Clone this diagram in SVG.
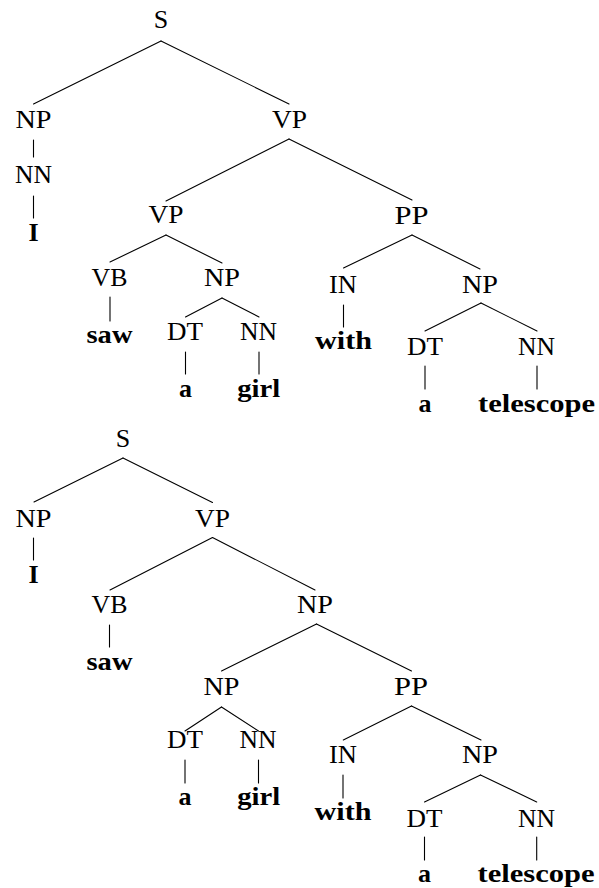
<svg xmlns="http://www.w3.org/2000/svg" width="599" height="888" viewBox="0 0 599 888">
  <style>
    text { font-family: "Liberation Serif", "Times New Roman", serif; fill: #000; text-anchor: middle; }
    .cat { font-size: 26px; }
    .word { font-size: 26px; font-weight: bold; }
    .edges line { stroke: #000; stroke-width: 1.1; stroke-linecap: round; }
  </style>
  <rect width="599" height="888" fill="#fff"/>

  <!-- Parse 1: PP attached to the verb phrase -->
  <g id="edges-1" class="edges">
    <line x1="161" y1="41" x2="33.5" y2="104"/>
    <line x1="161" y1="41" x2="289" y2="104"/>
    <line x1="33.5" y1="140" x2="33.5" y2="157"/>
    <line x1="33.5" y1="196" x2="33.5" y2="218"/>
    <line x1="289" y1="139" x2="166" y2="201"/>
    <line x1="289" y1="139" x2="412" y2="200"/>
    <line x1="166" y1="235" x2="110" y2="262"/>
    <line x1="166" y1="235" x2="222" y2="263"/>
    <line x1="110" y1="297" x2="110" y2="321"/>
    <line x1="222" y1="298" x2="185.5" y2="317"/>
    <line x1="222" y1="298" x2="259" y2="317"/>
    <line x1="185.5" y1="352" x2="185.5" y2="374"/>
    <line x1="259" y1="352" x2="259" y2="374"/>
    <line x1="412" y1="235" x2="343.5" y2="268"/>
    <line x1="412" y1="235" x2="480" y2="269"/>
    <line x1="343.5" y1="305" x2="343.5" y2="327"/>
    <line x1="481" y1="303" x2="425" y2="331"/>
    <line x1="481" y1="303" x2="537" y2="331"/>
    <line x1="425" y1="366" x2="425" y2="389"/>
    <line x1="537" y1="366" x2="537" y2="389"/>
  </g>

  <g id="t1-S"><text class="cat" x="161" y="28">S</text></g>
  <g id="t1-NP"><text class="cat" x="33.5" y="128" textLength="36" lengthAdjust="spacingAndGlyphs">NP</text></g>
  <g id="t1-NN"><text class="cat" x="33.5" y="183" textLength="37" lengthAdjust="spacingAndGlyphs">NN</text></g>
  <g id="t1-I"><text class="word" x="33.5" y="241">I</text></g>
  <g id="t1-VP"><text class="cat" x="289.5" y="128" textLength="35" lengthAdjust="spacingAndGlyphs">VP</text></g>
  <g id="t1-VP2"><text class="cat" x="166" y="223" textLength="35" lengthAdjust="spacingAndGlyphs">VP</text></g>
  <g id="t1-VB"><text class="cat" x="109.5" y="286" textLength="36" lengthAdjust="spacingAndGlyphs">VB</text></g>
  <g id="t1-saw"><text class="word" x="109.5" y="343" textLength="46" lengthAdjust="spacingAndGlyphs">saw</text></g>
  <g id="t1-NP2"><text class="cat" x="222" y="286" textLength="36" lengthAdjust="spacingAndGlyphs">NP</text></g>
  <g id="t1-DT"><text class="cat" x="185" y="340" textLength="36" lengthAdjust="spacingAndGlyphs">DT</text></g>
  <g id="t1-a"><text class="word" x="185.5" y="397">a</text></g>
  <g id="t1-NN2"><text class="cat" x="258.5" y="340" textLength="37" lengthAdjust="spacingAndGlyphs">NN</text></g>
  <g id="t1-girl"><text class="word" x="258.7" y="397" textLength="43" lengthAdjust="spacingAndGlyphs">girl</text></g>
  <g id="t1-PP"><text class="cat" x="411.5" y="224" textLength="34" lengthAdjust="spacingAndGlyphs">PP</text></g>
  <g id="t1-IN"><text class="cat" x="343" y="293" textLength="28" lengthAdjust="spacingAndGlyphs">IN</text></g>
  <g id="t1-with"><text class="word" x="343.5" y="349" textLength="57" lengthAdjust="spacingAndGlyphs">with</text></g>
  <g id="t1-NP3"><text class="cat" x="480" y="293" textLength="36" lengthAdjust="spacingAndGlyphs">NP</text></g>
  <g id="t1-DT2"><text class="cat" x="425" y="355" textLength="36" lengthAdjust="spacingAndGlyphs">DT</text></g>
  <g id="t1-a2"><text class="word" x="425" y="412">a</text></g>
  <g id="t1-NN3"><text class="cat" x="536.5" y="355" textLength="37" lengthAdjust="spacingAndGlyphs">NN</text></g>
  <g id="t1-telescope"><text class="word" x="536.5" y="412" textLength="117" lengthAdjust="spacingAndGlyphs">telescope</text></g>

  <!-- Parse 2: PP attached to the noun phrase -->
  <g id="edges-2" class="edges">
    <line x1="123" y1="458" x2="34" y2="502"/>
    <line x1="123" y1="458" x2="212.5" y2="502.5"/>
    <line x1="33.5" y1="538" x2="33.5" y2="560"/>
    <line x1="212.5" y1="537.5" x2="110" y2="590"/>
    <line x1="212.5" y1="537.5" x2="315" y2="590"/>
    <line x1="109.5" y1="625" x2="109.5" y2="647"/>
    <line x1="316.5" y1="624" x2="221.5" y2="671"/>
    <line x1="316.5" y1="624" x2="411.5" y2="671"/>
    <line x1="221.5" y1="707" x2="185" y2="731"/>
    <line x1="221.5" y1="707" x2="258.5" y2="731"/>
    <line x1="185" y1="760" x2="185" y2="783"/>
    <line x1="258.5" y1="760" x2="258.5" y2="783"/>
    <line x1="411.5" y1="706" x2="343.3" y2="740"/>
    <line x1="411.5" y1="706" x2="481" y2="740"/>
    <line x1="343" y1="775" x2="343" y2="798"/>
    <line x1="480.5" y1="775" x2="424.5" y2="802"/>
    <line x1="480.5" y1="775" x2="536.7" y2="802"/>
    <line x1="424.5" y1="837" x2="424.5" y2="860"/>
    <line x1="536.7" y1="837" x2="536.7" y2="860"/>
  </g>

  <g id="t2-S"><text class="cat" x="123" y="447">S</text></g>
  <g id="t2-NP"><text class="cat" x="33.5" y="527" textLength="36" lengthAdjust="spacingAndGlyphs">NP</text></g>
  <g id="t2-I"><text class="word" x="33.5" y="583">I</text></g>
  <g id="t2-VP"><text class="cat" x="212.5" y="527" textLength="35" lengthAdjust="spacingAndGlyphs">VP</text></g>
  <g id="t2-VB"><text class="cat" x="109.5" y="613" textLength="36" lengthAdjust="spacingAndGlyphs">VB</text></g>
  <g id="t2-saw"><text class="word" x="109.5" y="670" textLength="46" lengthAdjust="spacingAndGlyphs">saw</text></g>
  <g id="t2-NP2"><text class="cat" x="315" y="612.5" textLength="36" lengthAdjust="spacingAndGlyphs">NP</text></g>
  <g id="t2-NP3"><text class="cat" x="221.5" y="695" textLength="36" lengthAdjust="spacingAndGlyphs">NP</text></g>
  <g id="t2-DT"><text class="cat" x="185" y="748" textLength="36" lengthAdjust="spacingAndGlyphs">DT</text></g>
  <g id="t2-a"><text class="word" x="185" y="805">a</text></g>
  <g id="t2-NN"><text class="cat" x="258" y="748" textLength="37" lengthAdjust="spacingAndGlyphs">NN</text></g>
  <g id="t2-girl"><text class="word" x="258.7" y="805" textLength="43" lengthAdjust="spacingAndGlyphs">girl</text></g>
  <g id="t2-PP"><text class="cat" x="411" y="695" textLength="34" lengthAdjust="spacingAndGlyphs">PP</text></g>
  <g id="t2-IN"><text class="cat" x="343" y="763" textLength="28" lengthAdjust="spacingAndGlyphs">IN</text></g>
  <g id="t2-with"><text class="word" x="343" y="820" textLength="57" lengthAdjust="spacingAndGlyphs">with</text></g>
  <g id="t2-NP4"><text class="cat" x="480" y="763" textLength="36" lengthAdjust="spacingAndGlyphs">NP</text></g>
  <g id="t2-DT2"><text class="cat" x="424.5" y="827" textLength="36" lengthAdjust="spacingAndGlyphs">DT</text></g>
  <g id="t2-a2"><text class="word" x="424.5" y="882">a</text></g>
  <g id="t2-NN2"><text class="cat" x="536.5" y="827" textLength="37" lengthAdjust="spacingAndGlyphs">NN</text></g>
  <g id="t2-telescope"><text class="word" x="536" y="882" textLength="117" lengthAdjust="spacingAndGlyphs">telescope</text></g>
</svg>
